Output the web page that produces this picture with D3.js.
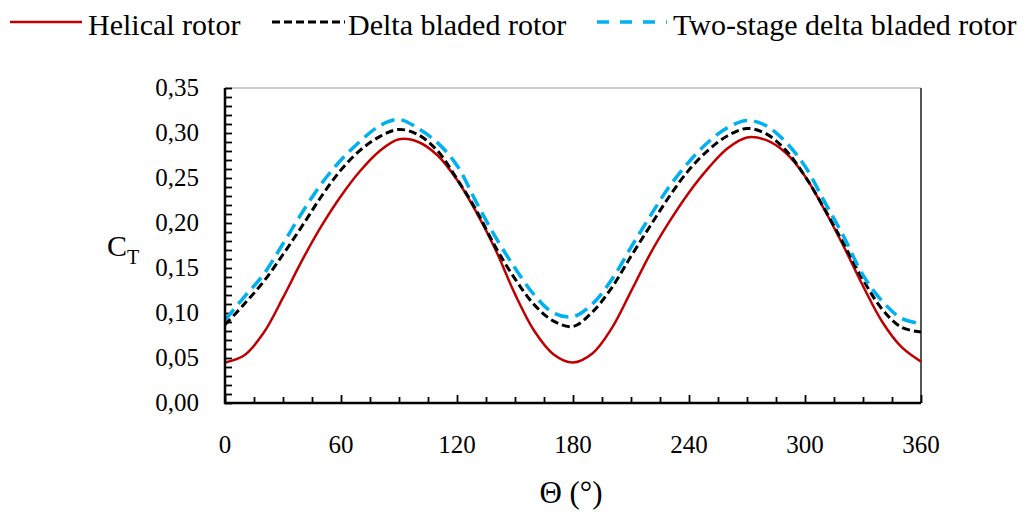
<!DOCTYPE html>
<html>
<head>
<meta charset="utf-8">
<script src="https://cdn.jsdelivr.net/npm/d3@7"></script>
<style>
body { margin: 0; background: #fff; }
svg text { font-family: "Liberation Serif", "Times New Roman", serif; fill: #000; }
</style>
</head>
<body>
<svg class="chart"></svg>
<script>
// angle (deg)
var angles = [0, 10, 20, 30, 40, 50, 60, 70, 80, 90, 100, 110, 120, 130, 140, 150, 160, 170, 180,
	190, 200, 210, 220, 230, 240, 250, 260, 270, 280, 290, 300, 310, 320, 330, 340, 350, 360];

var helical = [0.045, 0.053, 0.078, 0.117, 0.159, 0.197, 0.230, 0.258, 0.280, 0.293, 0.290, 0.275, 0.248, 0.212, 0.170, 0.121, 0.080, 0.054, 0.045,
	0.055, 0.083, 0.124, 0.166, 0.202, 0.234, 0.261, 0.283, 0.295, 0.292, 0.278, 0.252, 0.215, 0.174, 0.130, 0.090, 0.062, 0.046];

var delta = [0.087, 0.110, 0.135, 0.165, 0.197, 0.230, 0.259, 0.281, 0.296, 0.304, 0.298, 0.280, 0.249, 0.214, 0.173, 0.138, 0.109, 0.091, 0.085,
	0.101, 0.128, 0.163, 0.197, 0.230, 0.259, 0.281, 0.297, 0.305, 0.299, 0.281, 0.252, 0.216, 0.177, 0.137, 0.104, 0.084, 0.079];

var twoStage = [0.092, 0.118, 0.143, 0.177, 0.212, 0.244, 0.270, 0.291, 0.308, 0.315, 0.305, 0.289, 0.264, 0.223, 0.184, 0.150, 0.120, 0.100, 0.096,
	0.110, 0.137, 0.173, 0.208, 0.241, 0.268, 0.290, 0.306, 0.314, 0.308, 0.290, 0.263, 0.224, 0.185, 0.142, 0.113, 0.094, 0.088];

var yTicks = [0, 0.05, 0.10, 0.15, 0.20, 0.25, 0.30, 0.35];
var xTicks = [0, 60, 120, 180, 240, 300, 360];

var series = [
	{name: "Helical rotor", values: helical, color: "#c00000", width: 2.5, dash: null},
	{name: "Delta bladed rotor", values: delta, color: "#000", width: 3, dash: "8,4"},
	{name: "Two-stage delta bladed rotor", values: twoStage, color: "#00b0f0", width: 3.5, dash: "14,7"}
];

var W = 1027, H = 513;
var margin = {top: 88, right: 106, bottom: 110, left: 225};
var width = W - margin.left - margin.right;
var height = H - margin.top - margin.bottom;

var svg = d3.select(".chart").attr("width", W).attr("height", H);

var x = d3.scaleLinear().domain([0, 360]).range([0, width]);
var y = d3.scaleLinear().domain([0, 0.35]).range([height, 0]);

var chart = svg.append("g")
	.attr("transform", "translate(" + margin.left + "," + margin.top + ")");

// frame top / right
chart.append("line").attr("x1", 0).attr("x2", width).attr("y1", 0).attr("y2", 0)
	.attr("stroke", "#a0a0a0").attr("stroke-width", 1.2);
chart.append("line").attr("x1", width).attr("x2", width).attr("y1", 0).attr("y2", height)
	.attr("stroke", "#555").attr("stroke-width", 2);

// minor ticks
var yMinor = d3.range(0, 36).map(d => d / 100);
var xMinor = d3.range(0, 361, 15);

var yAxis = d3.axisLeft(y).tickValues(yMinor).tickSize(-7).tickFormat("");
var xAxis = d3.axisBottom(x).tickValues(xMinor.filter(d => d % 60)).tickSize(-6).tickFormat("");
var xMajor = d3.axisBottom(x).tickValues(xTicks).tickSize(-8).tickFormat("");

var gy = chart.append("g").call(yAxis);
var gx = chart.append("g").attr("transform", "translate(0," + height + ")").call(xAxis);
var gx2 = chart.append("g").attr("transform", "translate(0," + height + ")").call(xMajor);
[gy, gx, gx2].forEach(g => {
	g.select(".domain").remove();
	g.selectAll("line").attr("stroke", "#000").attr("stroke-width", 1.8);
});

// tick labels
var comma = d3.formatLocale({decimal: ",", thousands: ".", grouping: [3], currency: ["", ""]}).format(".2f");
chart.selectAll(".ylab").data(yTicks).enter().append("text")
	.attr("x", -26).attr("y", d => y(d) + 8)
	.attr("text-anchor", "end")
	.style("font-size", "25px")
	.text(d => comma(d));

chart.selectAll(".xlab").data(xTicks).enter().append("text")
	.attr("x", d => x(d)).attr("y", height + 50)
	.attr("text-anchor", "middle")
	.style("font-size", "25px")
	.text(d => d);

// curves
var line = d3.line()
	.x((d, i) => x(angles[i]))
	.y(d => y(d))
	.curve(d3.curveCatmullRom.alpha(0.5));

series.forEach(s => {
	chart.append("path")
		.attr("d", line(s.values))
		.attr("fill", "none")
		.attr("stroke", s.color)
		.attr("stroke-width", s.width)
		.attr("stroke-dasharray", s.dash);
});

// axis lines
chart.append("line").attr("x1", 0).attr("x2", 0).attr("y1", 0).attr("y2", height + 1)
	.attr("stroke", "#000").attr("stroke-width", 2.5);
chart.append("line").attr("x1", -1).attr("x2", width).attr("y1", height).attr("y2", height)
	.attr("stroke", "#000").attr("stroke-width", 2.5);

// axis titles
var ct = svg.append("text").attr("x", 107).attr("y", 256).style("font-size", "30px");
ct.append("tspan").text("C");
ct.append("tspan").attr("dy", 8).style("font-size", "20px").text("T");

svg.append("text").attr("x", 571).attr("y", 503)
	.attr("text-anchor", "middle").style("font-size", "31px")
	.text("\u0398 (\u00b0)");

// legend
var legendX = [[10, 82, 88], [272, 345, 348], [597, 667, 673]];
series.forEach((s, i) => {
	var lx = legendX[i];
	svg.append("line")
		.attr("x1", lx[0]).attr("x2", lx[1]).attr("y1", 22).attr("y2", 22)
		.attr("stroke", s.color)
		.attr("stroke-width", s.width)
		.attr("stroke-dasharray", i == 2 ? "12,11" : s.dash);
	svg.append("text")
		.attr("x", lx[2]).attr("y", 35)
		.style("font-size", "30px")
		.text(s.name);
});
</script>
</body>
</html>
